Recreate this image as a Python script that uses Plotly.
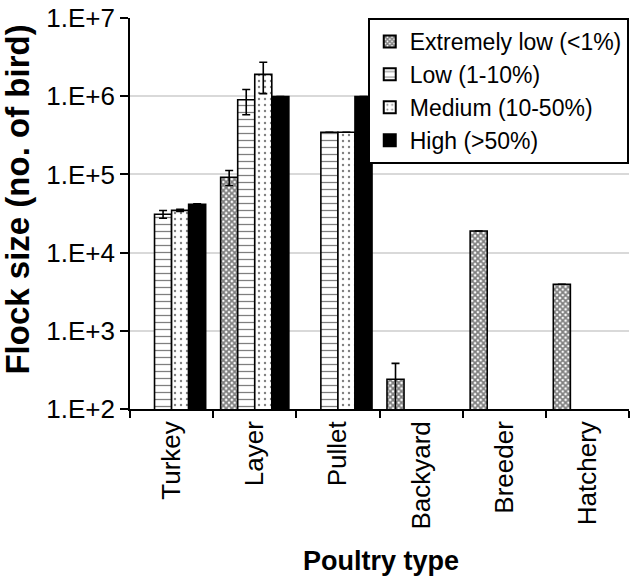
import plotly.graph_objects as go

categories = ["Turkey", "Layer", "Pullet", "Backyard", "Breeder", "Hatchery"]
series_names = ["Extremely low (<1%)", "Low (1-10%)", "Medium (10-50%)", "High (>50%)"]

extremely_low = [None, 92000, None, 240, 18900, 3930]
extremely_low_err = [0, 20000, 0, 143, 0, 0]
low = [31000, 900000, 346000, None, None, None]
low_err = [3500, 320000, 0, 0, 0, 0]
medium = [34700, 1900000, 346000, None, None, None]
medium_err = [1200, 820000, 0, 0, 0, 0]
high = [41400, 990000, 990000, None, None, None]
high_err = [800, 0, 0, 0, 0, 0]

ytick_vals = [1e2, 1e3, 1e4, 1e5, 1e6, 1e7]
ytick_text = ["1.E+2", "1.E+3", "1.E+4", "1.E+5", "1.E+6", "1.E+7"]

FONT = "Arial, Liberation Sans, Helvetica, sans-serif"

patterns = [
    dict(shape="x", size=4, solidity=0.7, fgcolor="black", bgcolor="white"),
    dict(shape="-", size=7, solidity=0.18, fgcolor="black", bgcolor="white"),
    dict(shape=".", size=6, solidity=0.12, fgcolor="black", bgcolor="white"),
    dict(shape="", fgcolor="black", bgcolor="black"),
]
values = [extremely_low, low, medium, high]
errors = [extremely_low_err, low_err, medium_err, high_err]

fig = go.Figure()
for i, (name, vals, errs, pat) in enumerate(zip(series_names, values, errors, patterns)):
    fig.add_trace(go.Bar(
        name=name,
        x=categories,
        y=vals,
        marker=dict(color="black" if i == 3 else "white",
                    line=dict(color="black", width=1.6),
                    pattern=pat),
        error_y=dict(type="data", array=errs, visible=True,
                     color="black", thickness=1.6, width=4),
    ))

fig.update_layout(
    width=632, height=579,
    barmode="group", bargap=0.18, bargroupgap=0,
    plot_bgcolor="white", paper_bgcolor="white",
    margin=dict(l=130, r=3, t=12, b=170),
    font=dict(family=FONT, color="black"),
    showlegend=True,
    legend=dict(x=0.9995, y=1, xanchor="right", yanchor="top",
                bgcolor="white", bordercolor="black", borderwidth=2,
                font=dict(size=23, family=FONT, color="black"),
                itemwidth=30, tracegroupgap=0,
                itemsizing="constant"),
    xaxis=dict(
        type="category",
        showline=True, linecolor="black", linewidth=1.6,
        ticks="outside", ticklen=7, tickwidth=1.6, tickcolor="black",
        tickson="boundaries",
        tickangle=-90,
        tickfont=dict(size=26, family=FONT, color="black"),
        showgrid=False,
    ),
    yaxis=dict(
        type="log", range=[1.99999, 7.00001],
        tickvals=ytick_vals, ticktext=ytick_text,
        ticklabeloverflow="allow",
        showline=True, linecolor="black", linewidth=1.6,
        ticks="outside", ticklen=8, tickwidth=1.6, tickcolor="black",
        tickfont=dict(size=26, family=FONT, color="black"),
        showgrid=True, gridcolor="#d9d9d9", gridwidth=1.5,
        zeroline=False,
    ),
    annotations=[
        dict(text="<b>Flock size (no. of bird)</b>", xref="paper", yref="paper",
             x=-0.225, y=0.535, xanchor="center", yanchor="middle", textangle=-90,
             showarrow=False, font=dict(size=33, family=FONT, color="black")),
        dict(text="<b>Poultry type</b>", xref="paper", yref="paper",
             x=0.504, y=-0.388, xanchor="center", yanchor="middle",
             showarrow=False, font=dict(size=27, family=FONT, color="black")),
    ],
)

fig.write_html("out.html",
               config={"displayModeBar": False},
               post_script="document.body.style.margin='0';document.body.style.padding='0';")
